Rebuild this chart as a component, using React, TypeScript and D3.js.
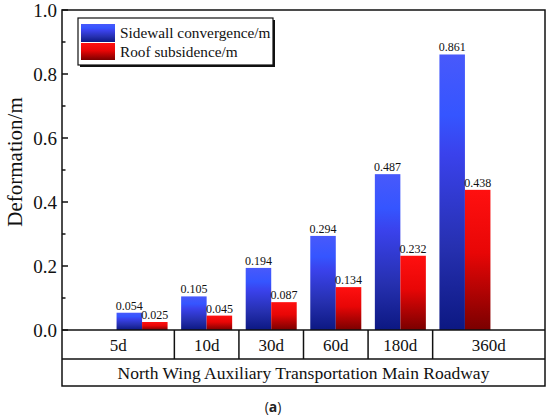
import React from "react";
import * as d3 from "d3";

const categories = ["5d", "10d", "30d", "60d", "180d", "360d"];
const sidewall = [0.054, 0.105, 0.194, 0.294, 0.487, 0.861];
const roof = [0.025, 0.045, 0.087, 0.134, 0.232, 0.438];
const yTicks = [0.0, 0.2, 0.4, 0.6, 0.8, 1.0];
const yMinorTicks = [0.1, 0.3, 0.5, 0.7, 0.9];
const seriesNames = ["Sidewall convergence/m", "Roof subsidence/m"];
const groupTitle = "North Wing Auxiliary Transportation Main Roadway";

const W = 550;
const H = 418;
const left = 62;
const right = 545;
const top = 10;
const bottom = 330;
const row1 = 359;
const row2 = 386;
const serif = "'Liberation Serif', 'Times New Roman', serif";

export default function App() {
  const x = d3.scaleLinear().domain([-1.24, categories.length - 1 + 1.24]).range([left, right]);
  const y = d3.scaleLinear().domain([0, 1]).range([bottom, top]);
  const step = x(1) - x(0);
  const bw = step * 0.395;
  const fmt = d3.format(".3f");
  const seps = d3.range(categories.length - 1).map((i) => x(i + 0.5));
  const cellEdges = [left, ...seps, right];

  return (
    <svg width={W} height={H} style={{ position: "absolute", left: 0, top: 0 }}>
      <defs>
        <linearGradient id="gBlue" x1="0" y1="0" x2="0" y2="1">
          <stop offset="0%" stopColor="#4859fb" />
          <stop offset="22%" stopColor="#3555ff" />
          <stop offset="36%" stopColor="#3a42ec" />
          <stop offset="70%" stopColor="#2630b0" />
          <stop offset="100%" stopColor="#0c1882" />
        </linearGradient>
        <linearGradient id="gRed" x1="0" y1="0" x2="0" y2="1">
          <stop offset="0%" stopColor="#ff1010" />
          <stop offset="45%" stopColor="#e80606" />
          <stop offset="100%" stopColor="#7a0000" />
        </linearGradient>
      </defs>
      <rect x={0} y={0} width={W} height={H} fill="#fff" />

      {/* bars */}
      {categories.map((c, i) => (
        <g key={c}>
          <rect x={x(i) - bw} y={y(sidewall[i])} width={bw} height={y(0) - y(sidewall[i])} fill="url(#gBlue)" />
          <rect x={x(i)} y={y(roof[i])} width={bw} height={y(0) - y(roof[i])} fill="url(#gRed)" />
          <text x={x(i) - bw / 2} y={y(sidewall[i]) - 3} fontFamily={serif} fontSize={12} textAnchor="middle" fill="#111">
            {fmt(sidewall[i])}
          </text>
          <text x={x(i) + bw / 2} y={y(roof[i]) - 3} fontFamily={serif} fontSize={12} textAnchor="middle" fill="#111">
            {fmt(roof[i])}
          </text>
        </g>
      ))}

      {/* frame */}
      <rect x={left} y={top} width={right - left} height={row2 - top} fill="none" stroke="#111" strokeWidth={1.5} />
      <line x1={left} x2={right} y1={bottom} y2={bottom} stroke="#111" strokeWidth={1.5} />
      <line x1={left} x2={right} y1={row1} y2={row1} stroke="#111" strokeWidth={1.5} />
      {seps.map((s, i) => (
        <line key={i} x1={s} x2={s} y1={bottom} y2={row1} stroke="#111" strokeWidth={1.5} />
      ))}
      {categories.map((c, i) => (
        <text key={c} x={(cellEdges[i] + cellEdges[i + 1]) / 2} y={(bottom + row1) / 2 + 6} fontFamily={serif} fontSize={17} textAnchor="middle" fill="#111">
          {c}
        </text>
      ))}
      <text x={(left + right) / 2} y={(row1 + row2) / 2 + 6} fontFamily={serif} fontSize={17.5} textAnchor="middle" fill="#111">
        {groupTitle}
      </text>

      {/* y axis ticks */}
      {yTicks.map((t) => (
        <g key={t}>
          <line x1={left} x2={left + 6} y1={y(t)} y2={y(t)} stroke="#111" strokeWidth={1.5} />
          <text x={57} y={y(t)} dy="0.35em" fontFamily={serif} fontSize={19} textAnchor="end" fill="#111">
            {t.toFixed(1)}
          </text>
        </g>
      ))}
      {yMinorTicks.map((t) => (
        <line key={t} x1={left} x2={left + 3.5} y1={y(t)} y2={y(t)} stroke="#111" strokeWidth={1.5} />
      ))}
      <text transform={`translate(22, ${(top + bottom) / 2 - 8}) rotate(-90)`} fontFamily={serif} fontSize={21} textAnchor="middle" fill="#111">
        Deformation/m
      </text>

      {/* legend */}
      <rect x={80} y={20} width={195} height={47} fill="#111" />
      <rect x={78} y={18} width={195} height={47} fill="#fff" stroke="#111" strokeWidth={1.2} />
      <rect x={81} y={24} width={34} height={18} fill="url(#gBlue)" />
      <rect x={81} y={43} width={34} height={17} fill="url(#gRed)" />
      <text x={120} y={38} fontFamily={serif} fontSize={15.3} fill="#111">{seriesNames[0]}</text>
      <text x={120} y={57} fontFamily={serif} fontSize={15.3} fill="#111">{seriesNames[1]}</text>

      <text x={273} y={412} fontFamily="'Open Sans', 'DejaVu Sans', sans-serif" fontSize={14} textAnchor="middle" fill="#222">
        (<tspan fontWeight="bold">a</tspan>)
      </text>
    </svg>
  );
}
